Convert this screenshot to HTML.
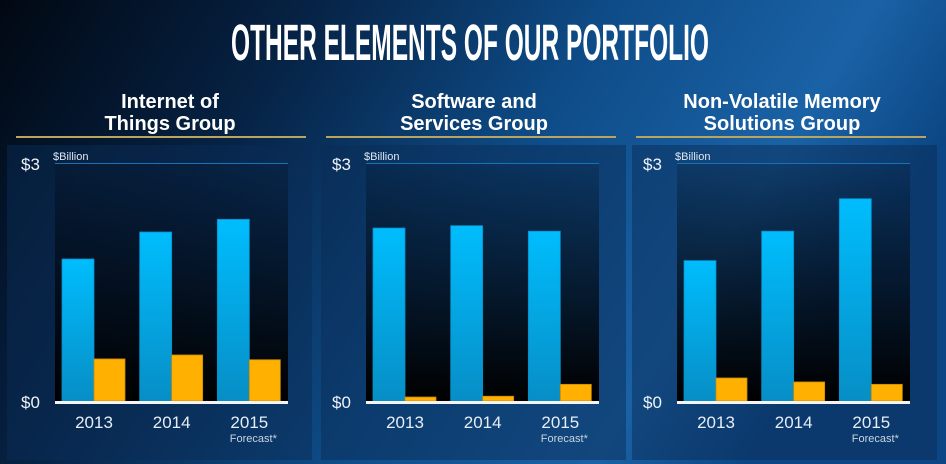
<!DOCTYPE html>
<html><head><meta charset="utf-8">
<style>
html,body{margin:0;padding:0}
body{width:946px;height:464px;overflow:hidden;position:relative;
background:#06203f;
font-family:"Liberation Sans",sans-serif;color:#fff}
svg{position:absolute;left:0;top:0}
</style></head>
<body>
<svg id="chart" width="946" height="464" viewBox="0 0 946 464">
<defs>
<linearGradient id="bg" x1="0" y1="0" x2="1" y2="0.3">
<stop offset="0" stop-color="#010812"/><stop offset="0.3" stop-color="#062244"/>
<stop offset="0.6" stop-color="#0e4c88"/><stop offset="0.85" stop-color="#1a62a6"/><stop offset="1" stop-color="#0c4684"/>
</linearGradient>
<linearGradient id="plotbg" x1="0" y1="0" x2="0" y2="1">
<stop offset="0" stop-color="#000" stop-opacity="0.15"/><stop offset="1" stop-color="#000" stop-opacity="1"/>
</linearGradient>
<linearGradient id="blue" x1="0" y1="0" x2="0" y2="1">
<stop offset="0" stop-color="#00bdfd"/><stop offset="1" stop-color="#078ec6"/>
</linearGradient>
</defs>
<rect width="946" height="464" fill="url(#bg)"/>
<text x="470" y="60" text-anchor="middle" font-family="Liberation Sans Narrow, Liberation Sans, sans-serif" font-weight="bold" font-size="51" fill="#fff" textLength="478" lengthAdjust="spacingAndGlyphs">OTHER ELEMENTS OF OUR PORTFOLIO</text>
<g id="panels"></g>
</svg>
<script>
const categories=["2013","2014","2015"];
const panelTitles=[["Internet of","Things Group"],["Software and","Services Group"],["Non-Volatile Memory","Solutions Group"]];
const blueIoT=[1.79,2.13,2.29];
const orangeIoT=[0.53,0.58,0.52];
const blueSSG=[2.18,2.21,2.14];
const orangeSSG=[0.05,0.06,0.21];
const blueNVM=[1.77,2.14,2.55];
const orangeNVM=[0.29,0.24,0.21];
const yTicks=["$0","$3"];
const yMax=3;

const blueSeries=[blueIoT,blueSSG,blueNVM];
const orangeSeries=[orangeIoT,orangeSSG,orangeNVM];
const NS="http://www.w3.org/2000/svg";
const panelsG=document.getElementById("panels");
function mk(tag,attrs,parent){const e=document.createElementNS(NS,tag);for(const k in attrs)e.setAttribute(k,attrs[k]);(parent||panelsG).appendChild(e);return e;}
const boxX=[7,321,632], plotX=[55,366,677], lineX=[16,326,636], titleCx=[170,474,782];
const plotW=233, plotTop=163, plotBase=401;
function yScale(v){return plotBase-(v/yMax)*(plotBase-plotTop);}
function xBand(i,px){return px+i*(plotW/3)+7;}
for(let p=0;p<3;p++){
  const pg=mk("g",{});
  
  
  panelTitles[p].forEach((t,j)=>{
    const tx=mk("text",{x:titleCx[p],y:108+j*22,"text-anchor":"middle","font-size":"20","font-weight":"bold",fill:"#fff"},pg);
    tx.textContent=t;
    
    
  });
  mk("rect",{x:lineX[p],y:136,width:290,height:2,fill:"#b9a55f"},pg);
  const box=mk("rect",{x:boxX[p],y:145,width:305,height:315,fill:"#0a2c55","fill-opacity":"0.5"},pg);
  
  
  mk("rect",{x:plotX[p],y:plotTop,width:plotW,height:plotBase-plotTop,fill:"url(#plotbg)"},pg);
  mk("rect",{x:plotX[p],y:plotTop,width:plotW,height:1,fill:"#1673b5"},pg);
  const ub=mk("text",{x:plotX[p]-2,y:160,"font-size":"11",fill:"#dfe8f2"},pg);
  ub.textContent="$Billion";
  
  
  [0,yMax].forEach((v,k)=>{
    const t=mk("text",{x:plotX[p]-34,y:yScale(v)+7,"font-size":"17",fill:"#eef3f8"},pg);
    t.textContent=yTicks[k];
    
    
  });
  categories.forEach((c,i)=>{
    const x=xBand(i,plotX[p]);
    const bv=blueSeries[p][i], ov=orangeSeries[p][i];
    const b=mk("rect",{x:x,y:yScale(bv),width:32,height:plotBase-yScale(bv),fill:"url(#blue)",stroke:"#0a8cc8","stroke-width":"0.8"},pg);
    
    
    const o=mk("rect",{x:x+32,y:yScale(ov),width:31,height:plotBase-yScale(ov),fill:"#ffb000",stroke:"#c98a00","stroke-width":"0.8"},pg);
    
    
    const l=mk("text",{x:x+32,y:428,"text-anchor":"middle","font-size":"17",fill:"#e6edf5"},pg);
    l.textContent=c;
    
    
    if(i===2){
      const f=mk("text",{x:x+36,y:442,"text-anchor":"middle","font-size":"11",fill:"#c8d4e0"},pg);
      f.textContent="Forecast*";
      
      
    }
  });
  const ax=mk("rect",{x:plotX[p],y:plotBase,width:plotW,height:3,fill:"#f4f4f4"},pg);
  
  
}
</script>
</body></html>
